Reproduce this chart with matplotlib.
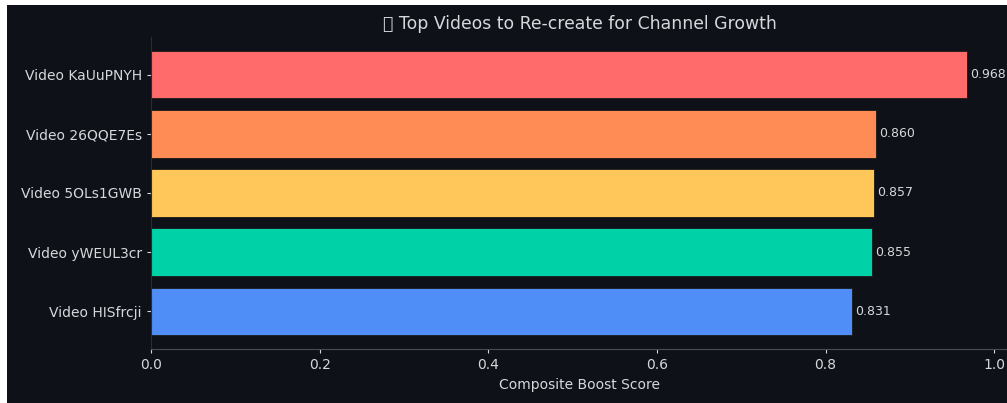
import matplotlib
matplotlib.use("Agg")
import matplotlib.pyplot as plt
from matplotlib.patches import Rectangle

videos = ["Video KaUuPNYH", "Video 26QQE7Es", "Video 5OLs1GWB", "Video yWEUL3cr", "Video HISfrcji"]
scores = [0.968, 0.860, 0.857, 0.855, 0.831]
colors = ["#ff6b6b", "#ff8c55", "#ffc75a", "#00d1a7", "#4f8ef7"]

bg = "#0e1117"
txt = "#d6d8dc"

fig = plt.figure(figsize=(10.07, 4.03), dpi=100)
fig.patch.set_facecolor("white")
# dark panel (reference shows a thin white strip on left and top)
fig.add_artist(Rectangle((7 / 1007, 0), 1, 1 - 5 / 403, transform=fig.transFigure,
                         facecolor=bg, edgecolor="none", zorder=-10))

ax = fig.add_axes([151 / 1007, 54 / 403, 857 / 1007, 312 / 403])
ax.set_facecolor(bg)

y = list(range(len(videos)))
bars = ax.barh(y, scores, color=colors, height=0.8, edgecolor="#1a1a1a", linewidth=0.6)
ax.invert_yaxis()
ax.set_yticks(y)
ax.set_yticklabels(videos)
ax.set_xlim(0, max(scores) * 1.05)

for b, s in zip(bars, scores):
    ax.text(b.get_width() + 0.004, b.get_y() + b.get_height() / 2, f"{s:.3f}",
            va="center", ha="left", color=txt, fontsize=9)

# the emoji has no glyph in any installed font; the reference shows it as a box too
ax.set_title("\U0001F680 Top Videos to Re-create for Channel Growth", color=txt, fontsize=12.4, pad=6)
ax.set_xlabel("Composite Boost Score", color=txt, fontsize=10, labelpad=4)
ax.tick_params(colors=txt, labelsize=10, length=3)
for side in ["top", "right"]:
    ax.spines[side].set_visible(False)
ax.spines["left"].set_color("#2a2d33")
ax.spines["bottom"].set_color("#4a4d54")

fig.savefig("out.png", dpi=100, facecolor=fig.get_facecolor())
